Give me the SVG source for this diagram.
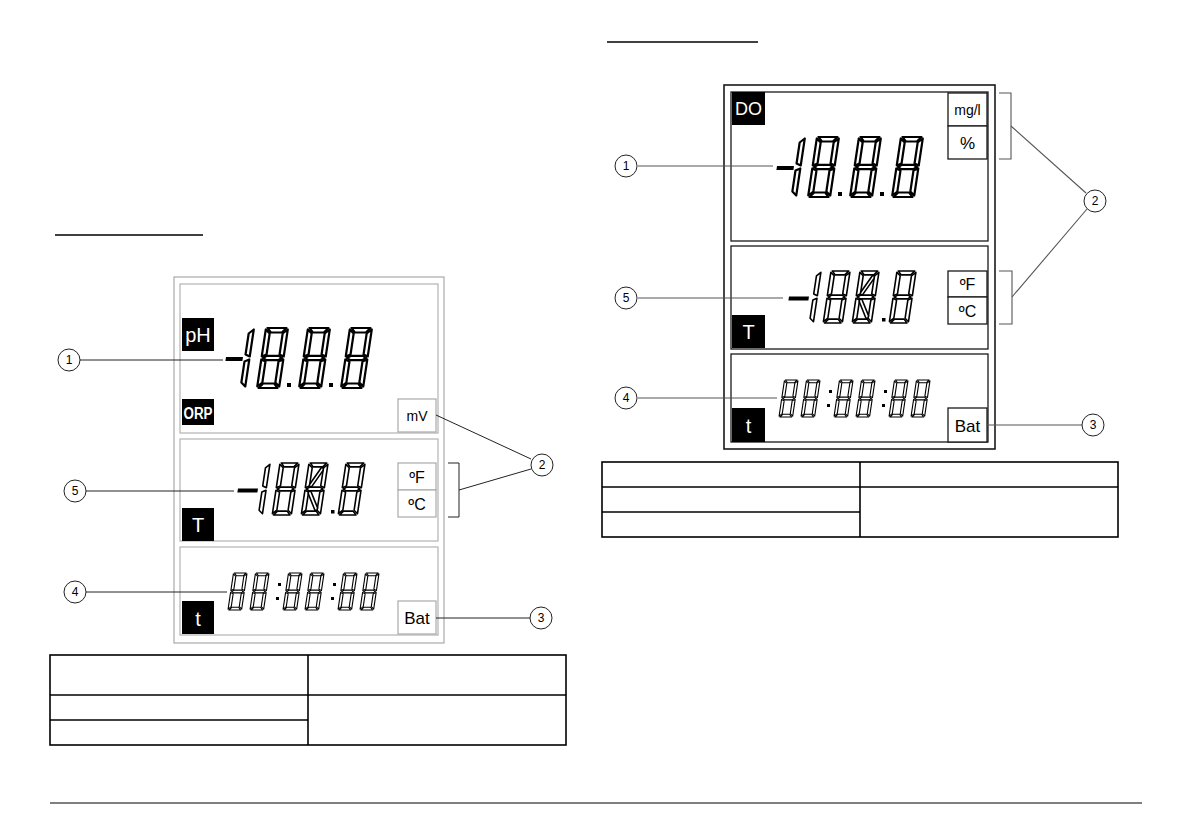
<svg xmlns="http://www.w3.org/2000/svg" width="1192" height="840" viewBox="0 0 1192 840">
<style>
.frameL{fill:#fff;stroke:#aaa;stroke-width:1.2}
.panelL{fill:#fff;stroke:#b3b3b3;stroke-width:1.2}
.boxL{fill:#fff;stroke:#aaa;stroke-width:1.2}
.frameR{fill:#fff;stroke:#1a1a1a;stroke-width:1.6}
.panelR{fill:#fff;stroke:#1a1a1a;stroke-width:1.3}
.boxR{fill:#fff;stroke:#1a1a1a;stroke-width:1.3}
.blk{fill:#000}
.wt{fill:#fff;font-family:"Liberation Sans",Arial,sans-serif;text-anchor:middle}
.bt{fill:#000;font-family:"Liberation Sans",Arial,sans-serif;text-anchor:middle}
.seg{fill:#fff;stroke:#000;stroke-linejoin:round}
.big{stroke-width:2.2}
.mid{stroke-width:1.6}
.sml{stroke-width:1.1}
.lead{fill:none;stroke:#222;stroke-width:1}
.leadR{fill:none;stroke:#555;stroke-width:1.1}
.call circle{fill:#fff;stroke:#222;stroke-width:1}
.num{font-family:"Liberation Sans",Arial,sans-serif;font-size:12px;text-anchor:middle;fill:#000}
.tbl{fill:none;stroke:#000;stroke-width:1.6}
.rule{stroke:#000;stroke-width:1.5}
</style>
<defs>
<g id="d8">
<polygon vector-effect="non-scaling-stroke" points="1.5,0 20.5,0 16.5,4.5 5.5,4.5"/>
<polygon vector-effect="non-scaling-stroke" points="22,1.5 22,28.5 17.5,26.5 17.5,5.5"/>
<polygon vector-effect="non-scaling-stroke" points="22,31.5 22,58.5 17.5,54.5 17.5,33.5"/>
<polygon vector-effect="non-scaling-stroke" points="1.5,60 20.5,60 16.5,55.5 5.5,55.5"/>
<polygon vector-effect="non-scaling-stroke" points="0,31.5 0,58.5 4.5,54.5 4.5,33.5"/>
<polygon vector-effect="non-scaling-stroke" points="0,1.5 0,28.5 4.5,26.5 4.5,5.5"/>
<polygon vector-effect="non-scaling-stroke" points="1.5,30 5,27.8 17,27.8 20.5,30 17,32.2 5,32.2"/>
</g>
<g id="d1">
<polygon vector-effect="non-scaling-stroke" points="22,1.5 22,28.5 17.5,26.5 17.5,5.5"/>
<polygon vector-effect="non-scaling-stroke" points="22,31.5 22,58.5 17.5,54.5 17.5,33.5"/>
</g>
<g id="d8x">
<use href="#d8"/>
<polygon vector-effect="non-scaling-stroke" points="15,5.5 17.5,5.5 17.5,8.5 7,27.5 4.5,27.5 4.5,24.5"/>
<polygon vector-effect="non-scaling-stroke" points="4.5,32.5 7,32.5 17.5,51.5 17.5,54.5 15,54.5 4.5,35.5"/>
</g>
<g id="digBig">
<polygon class="blk" points="226,357 243,357 242.4,361 225.4,361"/>
<use class="seg big" href="#d1" transform="translate(232,328) skewX(-8.5)"/>
<use class="seg big" href="#d8" transform="translate(266,328) skewX(-8.5)"/>
<use class="seg big" href="#d8" transform="translate(308,328) skewX(-8.5)"/>
<use class="seg big" href="#d8" transform="translate(350,328) skewX(-8.5)"/>
<rect class="blk" x="287" y="383" width="4" height="4"/>
<rect class="blk" x="329" y="383" width="4" height="4"/>
</g>
<g id="digTemp">
<polygon class="blk" points="238,488.5 258,488.5 257.4,492.5 237.4,492.5"/>
<use class="seg mid" href="#d1" transform="translate(251,463) skewX(-8.5) scale(0.867)"/>
<use class="seg mid" href="#d8" transform="translate(280,463) skewX(-8.5) scale(0.867)"/>
<use class="seg mid" href="#d8x" transform="translate(309,463) skewX(-8.5) scale(0.867)"/>
<rect class="blk" x="331" y="510" width="3.5" height="3.5"/>
<use class="seg mid" href="#d8" transform="translate(346,463) skewX(-8.5) scale(0.867)"/>
</g>
<g id="digTime">
<use class="seg sml" href="#d8" transform="translate(233.5,573) skewX(-8.5) scale(0.617)"/>
<use class="seg sml" href="#d8" transform="translate(255.5,573) skewX(-8.5) scale(0.617)"/>
<use class="seg sml" href="#d8" transform="translate(288.5,573) skewX(-8.5) scale(0.617)"/>
<use class="seg sml" href="#d8" transform="translate(310.5,573) skewX(-8.5) scale(0.617)"/>
<use class="seg sml" href="#d8" transform="translate(343.5,573) skewX(-8.5) scale(0.617)"/>
<use class="seg sml" href="#d8" transform="translate(365.5,573) skewX(-8.5) scale(0.617)"/>
<rect class="blk" x="278" y="583" width="3" height="3"/>
<rect class="blk" x="276" y="597" width="3" height="3"/>
<rect class="blk" x="333" y="583" width="3" height="3"/>
<rect class="blk" x="331" y="597" width="3" height="3"/>
</g>
</defs>
<rect width="1192" height="840" fill="#fff"/>

<g id="headings">
<line class="rule" x1="55" y1="235" x2="203" y2="235"/>
<line class="rule" x1="607" y1="42" x2="758" y2="42"/>
<line x1="50" y1="803" x2="1142" y2="803" stroke="#000" stroke-width="1"/>
</g>

<!-- Left display -->
<g id="display-left">
<rect class="frameL" x="174" y="277" width="270" height="366"/>
<rect class="panelL" x="180" y="284" width="258" height="149"/>
<rect class="panelL" x="180" y="439" width="258" height="102"/>
<rect class="panelL" x="180" y="547" width="258" height="88"/>
</g>
<g id="lcd-left-main"><use href="#digBig"/></g>
<g id="lcd-left-temp"><use href="#digTemp"/></g>
<g id="lcd-left-time"><use href="#digTime"/></g>
<g id="label-pH"><rect class="blk" x="182" y="318" width="32" height="33"/><text class="wt" x="198" y="342" font-size="20">pH</text></g>
<g id="label-ORP"><rect class="blk" x="182" y="399" width="32" height="26"/><text class="wt" x="198" y="419" font-size="16" font-weight="bold" textLength="29" lengthAdjust="spacingAndGlyphs">ORP</text></g>
<g id="box-mV"><rect class="boxL" x="398" y="399" width="38" height="33"/><text class="bt" x="417" y="421" font-size="14">mV</text></g>
<g id="box-F-left"><rect class="boxL" x="398" y="463" width="38" height="27"/><text class="bt" x="417" y="483" font-size="16">ºF</text></g>
<g id="box-C-left"><rect class="boxL" x="398" y="490" width="38" height="27"/><text class="bt" x="417" y="510" font-size="16">ºC</text></g>
<g id="label-T-left"><rect class="blk" x="182" y="508" width="32" height="33"/><text class="wt" x="198" y="532" font-size="20">T</text></g>
<g id="label-t-left"><rect class="blk" x="182" y="601" width="32" height="33"/><text class="wt" x="198" y="626" font-size="20">t</text></g>
<g id="box-Bat-left"><rect class="boxL" x="398" y="601" width="38" height="33"/><text class="bt" x="417" y="624" font-size="17">Bat</text></g>

<!-- Right display -->
<g id="display-right">
<rect class="frameR" x="724" y="85" width="271" height="364"/>
<rect class="panelR" x="731" y="92" width="257" height="149"/>
<rect class="panelR" x="731" y="246" width="257" height="103"/>
<rect class="panelR" x="731" y="354" width="257" height="88"/>
</g>
<g id="lcd-right-main"><use href="#digBig" transform="translate(551,-191)"/></g>
<g id="lcd-right-temp"><use href="#digTemp" transform="translate(551,-192)"/></g>
<g id="lcd-right-time"><use href="#digTime" transform="translate(551,-193)"/></g>
<g id="label-DO"><rect class="blk" x="732" y="92" width="33" height="33"/><text class="wt" x="748.5" y="115" font-size="18">DO</text></g>
<g id="box-mgl"><rect class="boxR" x="948" y="93" width="39" height="33"/><text class="bt" x="967.5" y="115" font-size="14">mg/l</text></g>
<g id="box-pct"><rect class="boxR" x="948" y="126" width="39" height="33"/><text class="bt" x="967.5" y="149" font-size="17">%</text></g>
<g id="box-F-right"><rect class="boxR" x="948" y="271" width="39" height="26"/><text class="bt" x="967.5" y="290" font-size="16">ºF</text></g>
<g id="box-C-right"><rect class="boxR" x="948" y="297" width="39" height="27"/><text class="bt" x="967.5" y="317" font-size="16">ºC</text></g>
<g id="label-T-right"><rect class="blk" x="732" y="315" width="33" height="33"/><text class="wt" x="748.5" y="339" font-size="20">T</text></g>
<g id="label-t-right"><rect class="blk" x="732" y="408" width="33" height="34"/><text class="wt" x="748.5" y="433" font-size="20">t</text></g>
<g id="box-Bat-right"><rect class="boxR" x="948" y="408" width="39" height="34"/><text class="bt" x="967.5" y="432" font-size="17">Bat</text></g>

<!-- Tables -->
<g id="table-left">
<rect class="tbl" x="50" y="655" width="516" height="90"/>
<line class="tbl" x1="308" y1="655" x2="308" y2="745"/>
<line class="tbl" x1="50" y1="695" x2="566" y2="695"/>
<line class="tbl" x1="50" y1="720" x2="308" y2="720"/>
</g>
<g id="table-right">
<rect class="tbl" x="602" y="462" width="516" height="75"/>
<line class="tbl" x1="860" y1="462" x2="860" y2="537"/>
<line class="tbl" x1="602" y1="487" x2="1118" y2="487"/>
<line class="tbl" x1="602" y1="512" x2="860" y2="512"/>
</g>

<!-- Connectors -->
<g id="connectors">
<line class="lead" x1="80" y1="360" x2="223" y2="360"/>
<line class="lead" x1="86" y1="491" x2="234" y2="491"/>
<line class="lead" x1="86" y1="592" x2="227" y2="592"/>
<line class="lead" x1="436" y1="415" x2="531" y2="459"/>
<path class="lead" d="M448,463 H459 V517 H448"/>
<line class="lead" x1="459" y1="490" x2="531" y2="469"/>
<line class="lead" x1="436" y1="618" x2="530" y2="618"/>
<line class="leadR" x1="638" y1="166" x2="773" y2="166"/>
<line class="leadR" x1="638" y1="298" x2="783" y2="298"/>
<line class="leadR" x1="638" y1="398" x2="777" y2="398"/>
<path class="leadR" d="M999,93 H1011 V159 H999"/>
<path class="leadR" d="M999,271 H1012 V324 H999"/>
<line class="leadR" x1="1011" y1="126" x2="1086" y2="193"/>
<line class="leadR" x1="1012" y1="297" x2="1087" y2="209"/>
<line class="leadR" x1="987" y1="425" x2="1082" y2="425"/>
</g>

<!-- Callouts -->
<g id="callout-1-left" class="call"><circle cx="69" cy="360" r="11"/><text class="num" x="69" y="364">1</text></g>
<g id="callout-5-left" class="call"><circle cx="75" cy="491" r="11"/><text class="num" x="75" y="495">5</text></g>
<g id="callout-4-left" class="call"><circle cx="75" cy="592" r="11"/><text class="num" x="75" y="596">4</text></g>
<g id="callout-2-left" class="call"><circle cx="542" cy="465" r="11"/><text class="num" x="542" y="469">2</text></g>
<g id="callout-3-left" class="call"><circle cx="541" cy="618" r="11"/><text class="num" x="541" y="622">3</text></g>
<g id="callout-1-right" class="call"><circle cx="626" cy="166" r="11"/><text class="num" x="626" y="170">1</text></g>
<g id="callout-5-right" class="call"><circle cx="626" cy="298" r="11"/><text class="num" x="626" y="302">5</text></g>
<g id="callout-4-right" class="call"><circle cx="626" cy="398" r="11"/><text class="num" x="626" y="402">4</text></g>
<g id="callout-2-right" class="call"><circle cx="1095" cy="201" r="11"/><text class="num" x="1095" y="205">2</text></g>
<g id="callout-3-right" class="call"><circle cx="1093" cy="425" r="11"/><text class="num" x="1093" y="429">3</text></g>
</svg>
